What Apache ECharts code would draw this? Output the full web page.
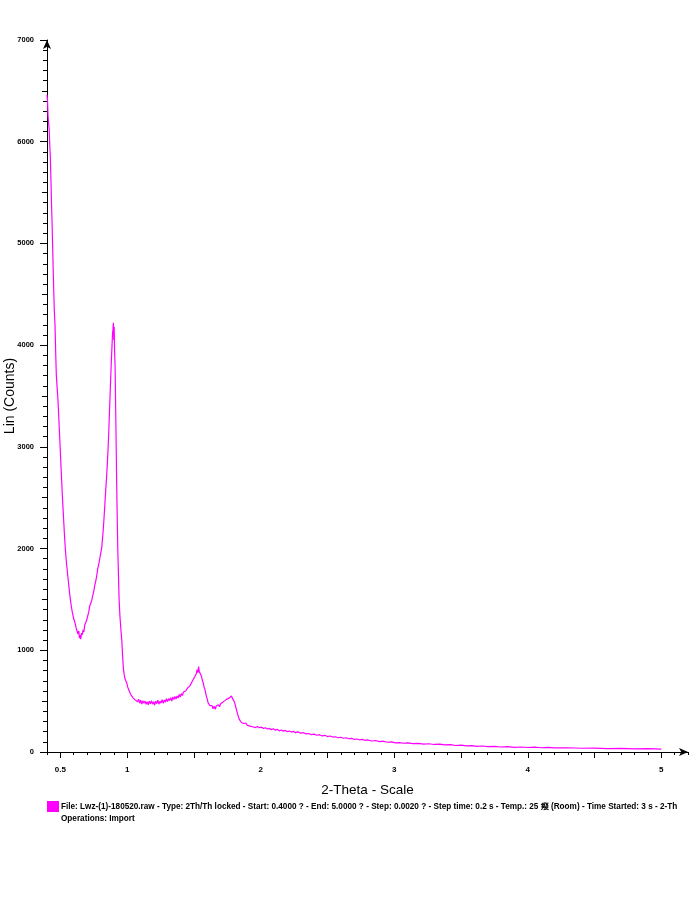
<!DOCTYPE html>
<html>
<head>
<meta charset="utf-8">
<script src="https://cdn.jsdelivr.net/npm/echarts@6/dist/echarts.min.js"></script>
<style>
  html, body { margin: 0; padding: 0; background: #fff; }
  #chart { width: 691px; height: 900px; }
</style>
</head>
<body>
<div id="chart"></div>
<script>
// scan (2-theta in degrees, counts)
var twoTheta = [
  0.400,0.404,0.408,0.412,0.416,0.420,0.425,0.430,0.434,0.438,
  0.442,0.446,0.450,0.455,0.460,0.465,0.470,0.476,0.482,0.488,
  0.494,0.500,0.507,0.515,0.522,0.530,0.537,0.545,0.555,0.563,
  0.572,0.580,0.590,0.600,0.610,0.618,0.625,0.632,0.638,0.643,
  0.648,0.653,0.658,0.664,0.670,0.676,0.683,0.690,0.698,0.705,
  0.712,0.719,0.727,0.735,0.743,0.750,0.758,0.765,0.772,0.780,
  0.788,0.795,0.803,0.810,0.816,0.822,0.828,0.834,0.840,0.846,
  0.852,0.858,0.864,0.870,0.876,0.882,0.887,0.891,0.894,0.897,
  0.900,0.903,0.906,0.910,0.914,0.918,0.922,0.926,0.930,0.935,
  0.940,0.946,0.953,0.960,0.966,0.972,0.978,0.984,0.990,0.997,
  1.004,1.010,1.016,1.022,1.030,1.038,1.046,1.054,1.062,1.070,
  1.078,1.086,1.094,1.102,1.110,1.118,1.126,1.134,1.142,1.150,
  1.158,1.166,1.174,1.182,1.190,1.198,1.206,1.214,1.222,1.230,
  1.238,1.246,1.254,1.262,1.270,1.278,1.286,1.294,1.302,1.310,
  1.318,1.326,1.334,1.342,1.350,1.358,1.366,1.374,1.382,1.390,
  1.398,1.406,1.414,1.422,1.430,1.438,1.446,1.454,1.462,1.470,
  1.478,1.486,1.494,1.502,1.510,1.518,1.524,1.530,1.535,1.540,
  1.546,1.552,1.558,1.564,1.570,1.576,1.582,1.588,1.594,1.600,
  1.606,1.612,1.620,1.628,1.636,1.644,1.652,1.660,1.668,1.676,
  1.684,1.692,1.700,1.708,1.716,1.724,1.732,1.740,1.748,1.756,
  1.764,1.772,1.780,1.786,1.792,1.798,1.804,1.810,1.816,1.822,
  1.828,1.834,1.840,1.848,1.856,1.864,1.872,1.880,1.890,1.900,
  1.910,1.920,1.930,1.940,1.950,1.960,1.975,1.990,2.005,2.020,
  2.035,2.050,2.065,2.080,2.095,2.110,2.125,2.140,2.155,2.170,
  2.185,2.200,2.215,2.230,2.245,2.260,2.280,2.300,2.320,2.340,
  2.360,2.380,2.400,2.420,2.440,2.460,2.480,2.500,2.520,2.540,
  2.560,2.580,2.600,2.620,2.640,2.660,2.680,2.700,2.720,2.740,
  2.760,2.780,2.800,2.830,2.860,2.890,2.920,2.950,2.980,3.010,
  3.040,3.070,3.100,3.140,3.180,3.220,3.260,3.300,3.340,3.380,
  3.420,3.460,3.500,3.540,3.580,3.620,3.660,3.700,3.750,3.800,
  3.850,3.900,3.950,4.000,4.050,4.100,4.150,4.200,4.300,4.400,
  4.500,4.600,4.700,4.800,4.900,5.000
];
var counts = [
  6460,6400,6250,6180,6130,5990,5850,5600,5380,5200,
  4980,4760,4560,4330,4200,3930,3700,3580,3460,3300,
  3120,2950,2750,2520,2350,2150,2000,1870,1740,1640,
  1530,1450,1370,1310,1270,1220,1190,1160,1190,1120,
  1150,1110,1170,1150,1200,1180,1250,1270,1300,1340,
  1370,1430,1440,1490,1540,1580,1640,1680,1730,1800,
  1850,1900,1960,2010,2100,2200,2320,2450,2580,2700,
  2840,3000,3200,3420,3640,3850,4000,4120,4150,4220,
  4050,4180,3950,3780,3400,3020,2620,2300,2000,1750,
  1500,1340,1210,1100,950,820,760,720,700,680,
  640,620,600,580,560,555,530,545,510,525,
  495,520,480,510,470,505,480,500,470,495,
  465,500,475,505,470,495,460,500,475,510,
  470,500,480,515,480,510,490,525,495,525,
  505,535,500,540,515,545,520,550,530,565,
  540,575,555,590,575,600,590,630,615,650,
  665,690,700,730,745,770,810,780,840,790,
  800,760,740,700,680,640,620,580,545,520,
  485,470,455,440,455,425,450,420,455,440,
  465,445,475,460,490,480,505,495,520,510,
  530,520,550,545,520,505,490,460,430,400,
  370,345,320,305,290,300,280,275,285,262,
  270,255,262,248,255,240,250,238,245,232,
  238,226,232,220,228,215,222,208,216,205,
  212,200,207,196,203,190,198,185,190,178,
  182,170,176,165,170,158,164,152,157,147,
  150,140,145,135,140,130,134,125,128,120,
  124,115,119,108,113,102,106,96,100,90,
  93,86,89,82,85,78,81,74,77,70,
  72,64,67,60,63,56,59,52,55,49,
  52,46,49,44,47,42,45,40,42,37,
  39,34,36,31,33,28
];
var xLabelValues = [0.5, 1, 2, 3, 4, 5];
var xMajorTicks = [0.5, 1, 1.5, 2, 2.5, 3, 3.5, 4, 4.5, 5];
var scanName = 'File: Lwz-(1)-180520.raw - Type: 2Th/Th locked - Start: 0.4000 ? - End: 5.0000 ? - Step: 0.0020 ? - Step time: 0.2 s - Temp.: 25 癈 (Room) - Time Started: 3 s - 2-Th';
var operations = 'Operations: Import';

var sans = "'Liberation Sans', Arial, sans-serif";
var scan = [];
for (var i = 0; i < twoTheta.length; i++) {
  scan.push([twoTheta[i], counts[i]]);
}

var chart = echarts.init(document.getElementById('chart'));
var option = {
  animation: false,
  backgroundColor: '#fff',
  grid: { left: 47, right: 3, top: 40, bottom: 148, containLabel: false, outerBoundsMode: 'none' },
  legend: {
    data: [{ name: scanName, icon: 'rect' }],
    left: 47, top: 801,
    padding: 0,
    itemWidth: 12, itemHeight: 11, itemGap: 2,
    textStyle: { fontSize: 8.2, fontWeight: 'bold', fontFamily: sans, color: '#000', padding: [0, 0, 0, -3] }
  },
  graphic: [{
    type: 'text', left: 61, top: 815,
    style: { text: operations, font: 'bold 8.2px ' + sans, fill: '#000' }
  }],
  xAxis: [{
    type: 'value', position: 'bottom',
    min: 0.4, max: 5.2, interval: 0.1,
    name: '2-Theta - Scale', nameLocation: 'middle', nameGap: 31, nameMoveOverlap: false,
    nameTextStyle: { fontSize: 13.5, fontFamily: sans, color: '#000' },
    axisLine: { lineStyle: { color: '#000', width: 1 }, symbol: ['none', 'arrow'], symbolSize: [6, 9] },
    axisTick: { length: 3, lineStyle: { color: '#000' } },
    axisLabel: {
      margin: 14, fontSize: 8, fontWeight: 'bold', color: '#000', fontFamily: sans,
      formatter: function (v) {
        for (var k = 0; k < xLabelValues.length; k++) {
          if (Math.abs(xLabelValues[k] - v) < 1e-6) return String(xLabelValues[k]);
        }
        return '';
      }
    },
    splitLine: { show: false }
  }, {
    type: 'value', position: 'bottom',
    min: 0.4, max: 5.2, interval: 0.1,
    axisLine: { show: false },
    axisTick: { length: 6, customValues: xMajorTicks, lineStyle: { color: '#000' } },
    axisLabel: { show: false },
    splitLine: { show: false }
  }],
  yAxis: [{
    type: 'value', position: 'left',
    min: 0, max: 7000, interval: 1000,
    name: 'Lin (Counts)', nameLocation: 'middle', nameGap: 30, nameRotate: 90, nameMoveOverlap: false,
    nameTextStyle: { fontSize: 14, fontFamily: sans, color: '#000' },
    axisLine: { show: true, lineStyle: { color: '#000', width: 1 }, symbol: ['none', 'arrow'], symbolSize: [6, 9] },
    axisTick: { show: true, length: 7, lineStyle: { color: '#000' } },
    minorTick: { show: true, splitNumber: 10, length: 4, lineStyle: { color: '#000' } },
    axisLabel: {
      margin: 13, fontSize: 7.5, fontWeight: 'bold', color: '#000', fontFamily: sans,
      formatter: function (v) { return String(v); }
    },
    splitLine: { show: false }
  }, {
    type: 'value', position: 'left',
    min: 0, max: 7000, interval: 500,
    axisLine: { show: false },
    axisTick: { show: true, length: 5, lineStyle: { color: '#000' } },
    axisLabel: { show: false },
    splitLine: { show: false }
  }],
  series: [{
    name: scanName,
    type: 'line',
    xAxisIndex: 0, yAxisIndex: 0,
    data: scan,
    showSymbol: false,
    color: '#ff00ff',
    lineStyle: { color: '#ff00ff', width: 1.2 }
  }]
};
chart.setOption(option);
</script>
</body>
</html>
